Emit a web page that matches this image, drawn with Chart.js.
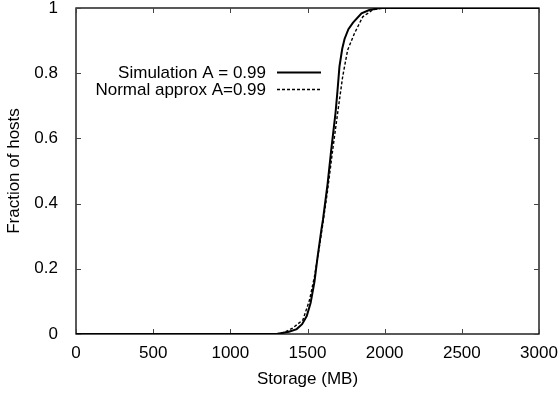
<!DOCTYPE html>
<html>
<head>
<meta charset="utf-8">
<script src="https://cdn.jsdelivr.net/npm/chart.js@4.4.0/dist/chart.umd.min.js"></script>
<style>
  body { margin: 0; background: #fff; }
  canvas { display: block; }
</style>
</head>
<body>
<canvas id="mycanvas" width="559" height="394"></canvas>
<script>
var simStorage  = [0, 1000, 1300, 1380, 1430, 1465, 1495, 1520, 1545, 1565, 1590, 1600, 1630, 1655, 1682, 1695, 1707, 1725, 1740, 1765, 1795, 1850, 1900, 1970, 2100, 3000];
var simFraction = [0, 0, 0, 0.007, 0.015, 0.03, 0.055, 0.095, 0.16, 0.235, 0.32, 0.35, 0.46, 0.57, 0.68, 0.75, 0.82, 0.875, 0.905, 0.935, 0.955, 0.984, 0.994, 1, 1, 1];

var normStorage  = [0, 1000, 1300, 1350, 1400, 1470, 1513, 1545, 1577, 1600, 1630, 1663, 1696, 1728, 1760, 1804, 1858, 1922, 1990, 2100, 3000];
var normFraction = [0, 0, 0, 0.005, 0.017, 0.043, 0.104, 0.176, 0.268, 0.34, 0.44, 0.564, 0.68, 0.79, 0.871, 0.922, 0.973, 0.994, 1, 1, 1];

var seriesNames = ['Simulation A = 0.99', 'Normal approx A=0.99'];
var xTicks = [0, 500, 1000, 1500, 2000, 2500, 3000];
var yTicks = [0, 0.2, 0.4, 0.6, 0.8, 1];

var FONT = 'Liberation Sans, Arial, Helvetica, sans-serif';

function toPoints(xs, ys) {
  var pts = [];
  for (var i = 0; i < xs.length; i++) {
    pts.push({x: xs[i], y: ys[i]});
  }
  return pts;
}

// gnuplot style frame with inward ticks on all four sides
var framePlugin = {
  id: 'frame',
  beforeDatasetsDraw: function(chart) {
    var ctx = chart.ctx, a = chart.chartArea;
    var xs = chart.scales.x, ys = chart.scales.y;
    ctx.save();
    ctx.strokeStyle = '#000';
    ctx.lineWidth = 1.3;
    ctx.strokeRect(a.left, a.top, a.right - a.left, a.bottom - a.top);
    ctx.lineWidth = 1;
    ctx.strokeStyle = '#444';
    ctx.beginPath();
    xTicks.forEach(function(v) {
      var px = Math.round(xs.getPixelForValue(v)) + 0.5;
      ctx.moveTo(px, a.bottom); ctx.lineTo(px, a.bottom - 5);
      ctx.moveTo(px, a.top); ctx.lineTo(px, a.top + 5);
    });
    yTicks.forEach(function(v) {
      var py = Math.round(ys.getPixelForValue(v)) + 0.5;
      ctx.moveTo(a.left, py); ctx.lineTo(a.left + 5, py);
      ctx.moveTo(a.right, py); ctx.lineTo(a.right - 5, py);
    });
    ctx.stroke();
    ctx.restore();
  }
};

// key: text right aligned, line sample to the right
var keyPlugin = {
  id: 'key',
  afterDatasetsDraw: function(chart) {
    var ctx = chart.ctx;
    var rows = [72.5, 89.5];
    ctx.save();
    ctx.font = '17px ' + FONT;
    ctx.fillStyle = '#000';
    ctx.textAlign = 'right';
    ctx.textBaseline = 'middle';
    chart.data.datasets.forEach(function(ds, i) {
      ctx.fillText(ds.label, 266, rows[i] + 1);
      ctx.beginPath();
      ctx.strokeStyle = ds.borderColor;
      ctx.lineWidth = ds.borderWidth;
      ctx.setLineDash(ds.borderDash || []);
      ctx.moveTo(277, rows[i]);
      ctx.lineTo(321, rows[i]);
      ctx.stroke();
    });
    ctx.restore();
  }
};

var plainLabel = function(value) { return String(value); };

var ctx = document.getElementById('mycanvas');

var cdfChart = new Chart(ctx, {
  type: 'scatter',
  data: {
    datasets: [
      {
        label: seriesNames[0],
        data: toPoints(simStorage, simFraction),
        showLine: true,
        borderColor: '#000',
        borderWidth: 2,
        pointRadius: 0,
        tension: 0
      },
      {
        label: seriesNames[1],
        data: toPoints(normStorage, normFraction),
        showLine: true,
        borderColor: '#000',
        borderWidth: 1.4,
        borderDash: [3, 2],
        pointRadius: 0,
        tension: 0
      }
    ]
  },
  options: {
    responsive: false,
    animation: false,
    layout: { padding: { top: 8, right: 20, left: 0, bottom: 0 } },
    plugins: {
      legend: { display: false },
      tooltip: { enabled: false }
    },
    scales: {
      x: {
        type: 'linear',
        min: 0,
        max: 3000,
        afterBuildTicks: function(s) { s.ticks = xTicks.map(function(v) { return {value: v}; }); },
        grid: { display: false },
        border: { display: false },
        ticks: { color: '#000', font: { family: FONT, size: 17 }, padding: 1, maxRotation: 0, callback: plainLabel },
        title: { display: true, text: 'Storage (MB)', color: '#000', font: { family: FONT, size: 17 }, padding: { top: 4 } },
        afterFit: function(s) { s.height = 60; s.paddingLeft = 0; s.paddingRight = 0; }
      },
      y: {
        min: 0,
        max: 1,
        afterBuildTicks: function(s) { s.ticks = yTicks.map(function(v) { return {value: v}; }); },
        grid: { display: false },
        border: { display: false },
        ticks: { color: '#000', font: { family: FONT, size: 17 }, padding: 10, callback: plainLabel },
        title: { display: true, text: 'Fraction of hosts', color: '#000', font: { family: FONT, size: 17 }, padding: { bottom: 0 } },
        afterFit: function(s) { s.width = 76; s.paddingTop = 0; s.paddingBottom = 0; }
      }
    }
  },
  plugins: [framePlugin, keyPlugin]
});
</script>
</body>
</html>
